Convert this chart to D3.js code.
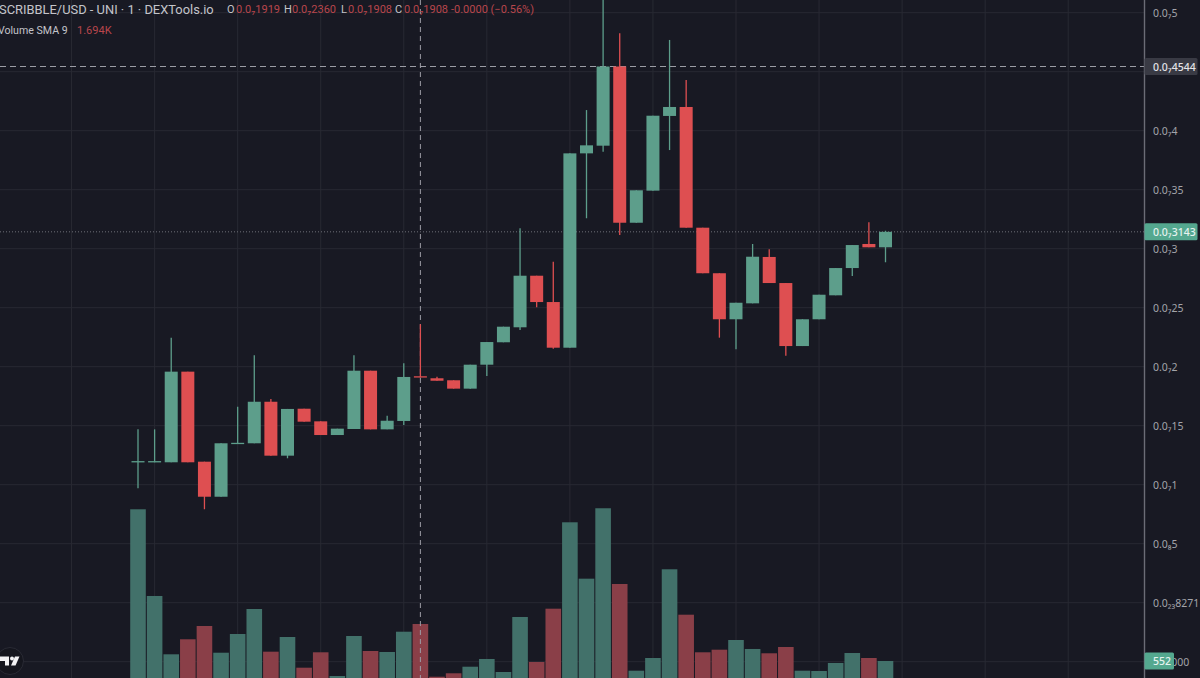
<!DOCTYPE html>
<html>
<head>
<meta charset="utf-8">
<script src="https://cdn.jsdelivr.net/npm/d3@7"></script>
<style>
  html, body { margin: 0; padding: 0; background: #181923; overflow: hidden; }
  text { font-family: "Noto Sans", sans-serif; }
  .legend text { font-family: Roboto, sans-serif; }
</style>
</head>
<body>
<svg id="chart" width="1200" height="678"></svg>
<script>
// prices are in units of 1e-8 (0.0₇5 == 5)
var opens = [1.190,1.190,1.190,1.958,1.195,0.898,1.345,1.351,1.703,1.246,1.644,1.537,1.421,1.472,1.966,1.469,1.540,1.919,1.902,1.885,1.814,2.017,2.207,2.334,2.771,2.548,2.161,3.808,3.873,4.544,3.220,3.492,4.125,4.201,3.178,2.792,2.402,2.537,2.930,2.709,2.175,2.402,2.605,2.836,3.040,3.012];
var closes = [1.200,1.200,1.958,1.190,0.898,1.351,1.355,1.703,1.246,1.642,1.534,1.421,1.475,1.966,1.469,1.542,1.913,1.908,1.881,1.814,2.017,2.209,2.339,2.771,2.548,2.161,3.808,3.876,4.544,3.220,3.495,4.127,4.201,3.178,2.792,2.402,2.542,2.932,2.709,2.175,2.402,2.610,2.836,3.031,3.012,3.143];
var highs = [1.469,1.469,2.246,1.958,1.195,1.351,1.661,2.097,1.726,1.642,1.644,1.537,1.475,2.097,1.966,1.585,2.029,2.360,1.915,1.885,2.017,2.209,2.339,3.173,2.771,2.890,3.808,4.175,5.150,4.825,3.495,4.127,4.769,4.430,3.178,2.792,2.542,3.040,2.995,2.709,2.402,2.610,2.836,3.031,3.224,3.152];
var lows = [0.969,1.190,1.190,1.190,0.792,0.898,1.345,1.351,1.246,1.224,1.534,1.421,1.421,1.472,1.469,1.469,1.506,1.908,1.881,1.814,1.814,1.921,2.207,2.311,2.503,2.153,2.161,3.258,3.822,3.116,3.220,3.492,3.836,3.178,2.792,2.246,2.147,2.537,2.709,2.093,2.175,2.402,2.605,2.769,3.012,2.885];
var volumes = [4540,2261,728,1123,1472,770,1262,1919,797,1183,376,781,158,1209,815,789,1322,1525,139,229,402,605,263,1709,526,1927,4198,2716,4567,2576,297,631,2963,1769,781,849,1104,868,755,920,297,289,500,762,631,552];

var priceTicks = [5, 4.5, 4, 3.5, 3, 2.5, 2, 1.5, 1, 0.5, 0, -0.5];
var priceTickLabels = ['0.0₇5', '', '0.0₇4', '0.0₇35', '0.0₇3', '0.0₇25', '0.0₇2', '0.0₇15', '0.0₇1', '0.0₈5', '0.0₂₃8271', '-0.0000'];
var gridIndexes = [-4, 1, 6, 11, 16, 21, 26, 31, 36, 41, 46, 51, 56];

var crosshairIndex = 17;
var crosshairPrice = 4.544;
var lastPrice = 3.143;
var lastVolume = 552;

var GREEN = '#5d9e8b', RED = '#de4f51';
var VOL_GREEN = '#42716a', VOL_RED = '#8a3f48';
var AXIS_X = 1144.5;

var svg = d3.select('#chart');

var x = d3.scaleLinear().domain([0, 45]).range([138, 885.5]);
var y = d3.scaleLinear().domain([0, 5]).range([602.7, 12.7]);
var yVol = d3.scaleLinear().domain([0, 4600]).range([682, 507]);

var bars = d3.range(opens.length);
var candleW = 13, volW = 15.6;

svg.append('rect').attr('width', 1200).attr('height', 678).attr('fill', '#181923');

// grid
svg.append('g').selectAll('line').data(priceTicks).enter().append('line')
  .attr('x1', 0).attr('x2', AXIS_X)
  .attr('y1', function(d) { return y(d); }).attr('y2', function(d) { return y(d); })
  .attr('stroke', '#282933').attr('stroke-width', 1);
svg.append('g').selectAll('line').data(gridIndexes).enter().append('line')
  .attr('x1', function(d) { return x(d); }).attr('x2', function(d) { return x(d); })
  .attr('y1', 0).attr('y2', 678)
  .attr('stroke', '#282933').attr('stroke-width', 1);

// volume
svg.append('g').selectAll('rect').data(bars).enter().append('rect')
  .attr('x', function(i) { return x(i) - volW / 2; })
  .attr('width', volW)
  .attr('y', function(i) { return yVol(volumes[i]); })
  .attr('height', function(i) { return yVol(0) - yVol(volumes[i]); })
  .attr('fill', function(i) { return closes[i] >= opens[i] ? VOL_GREEN : VOL_RED; });

// crosshair + price lines
svg.append('line')
  .attr('x1', x(crosshairIndex)).attr('x2', x(crosshairIndex)).attr('y1', 0).attr('y2', 678)
  .attr('stroke', '#9c9da5').attr('stroke-width', 1).attr('stroke-dasharray', '5 4');
svg.append('line')
  .attr('x1', 0).attr('x2', AXIS_X).attr('y1', y(crosshairPrice)).attr('y2', y(crosshairPrice))
  .attr('stroke', '#9c9da5').attr('stroke-width', 1).attr('stroke-dasharray', '6 4');
svg.append('line')
  .attr('x1', 0).attr('x2', AXIS_X).attr('y1', y(lastPrice)).attr('y2', y(lastPrice))
  .attr('stroke', '#6e6f77').attr('stroke-width', 1).attr('stroke-dasharray', '1 2');

// candles
var candleColor = function(i) { return closes[i] >= opens[i] ? GREEN : RED; };
svg.append('g').selectAll('line').data(bars).enter().append('line')
  .attr('x1', function(i) { return x(i); }).attr('x2', function(i) { return x(i); })
  .attr('y1', function(i) { return y(highs[i]); }).attr('y2', function(i) { return y(lows[i]); })
  .attr('stroke', candleColor).attr('stroke-width', 1.3);
svg.append('g').selectAll('rect').data(bars).enter().append('rect')
  .attr('x', function(i) { return x(i) - candleW / 2; })
  .attr('width', candleW)
  .attr('y', function(i) { return y(Math.max(opens[i], closes[i])); })
  .attr('height', function(i) { return Math.max(1.3, Math.abs(y(opens[i]) - y(closes[i]))); })
  .attr('fill', candleColor);

// price axis
svg.append('rect').attr('x', AXIS_X).attr('y', 0).attr('width', 56).attr('height', 678).attr('fill', '#181923');
svg.append('line')
  .attr('x1', AXIS_X).attr('x2', AXIS_X).attr('y1', 0).attr('y2', 678)
  .attr('stroke', '#6b6c76').attr('stroke-width', 1.4);
svg.append('g').selectAll('text').data(priceTicks).enter().append('text')
  .attr('x', 1153)
  .attr('y', function(d) { return y(d) + 4; })
  .attr('font-size', 10.5)
  .attr('fill', '#a3a4aa')
  .text(function(d, i) { return priceTickLabels[i]; });

// axis badges
function badge(yPos, w, fill, txtFill, label) {
  svg.append('rect')
    .attr('x', AXIS_X).attr('y', yPos - 8.5).attr('width', w).attr('height', 17).attr('rx', 1.5)
    .attr('fill', fill);
  svg.append('text')
    .attr('x', 1153).attr('y', yPos + 4)
    .attr('font-size', 10.5).attr('font-weight', 500)
    .attr('fill', txtFill)
    .text(label);
}
badge(y(crosshairPrice), 53, '#393a44', '#e4e4e8', '0.0₇4544');
badge(y(lastPrice), 53, '#54a88f', '#e6f3ef', '0.0₇3143');
badge(yVol(lastVolume), 29.5, '#54a88f', '#e6f3ef', String(lastVolume));

// legend
var legend = svg.append('g').attr('class', 'legend');
function label(xPos, yPos, size, fill, txt) {
  legend.append('text').attr('x', xPos).attr('y', yPos).attr('font-size', size).attr('fill', fill).text(txt);
}
var LEG_RED = '#b8464c', LEG_TXT = '#c3c4ca';
label(-1, 14, 12.9, LEG_TXT, 'SCRIBBLE/USD - UNI · 1 · DEXTools.io');
label(227, 13, 11, LEG_TXT, 'O');
label(236, 13, 11, LEG_RED, '0.0₇1919');
label(284, 13, 11, LEG_TXT, 'H');
label(292, 13, 11, LEG_RED, '0.0₇2360');
label(341, 13, 11, LEG_TXT, 'L');
label(348, 13, 11, LEG_RED, '0.0₇1908');
label(395, 13, 11, LEG_TXT, 'C');
label(404, 13, 11, LEG_RED, '0.0₇1908');
label(451, 13, 11, LEG_RED, '-0.0000 (−0.56%)');
label(-2, 34, 10.6, LEG_TXT, 'Volume SMA 9');
label(77, 34, 11, LEG_RED, '1.694K');

// TradingView mark
var logo = svg.append('g').attr('transform', 'translate(10,661)');
logo.append('circle').attr('r', 13.5).attr('fill', '#15161e').attr('stroke', '#292a34');
logo.append('path').attr('fill', '#f2f2f4')
  .attr('d', 'M-10,-4.5H-1V4.5H-5V0H-10Z');
logo.append('circle').attr('cx', 2).attr('cy', -2.4).attr('r', 2).attr('fill', '#f2f2f4');
logo.append('path').attr('fill', '#f2f2f4')
  .attr('d', 'M1,4.5L5,-4.5H9.5L5.5,4.5Z');
</script>
</body>
</html>
